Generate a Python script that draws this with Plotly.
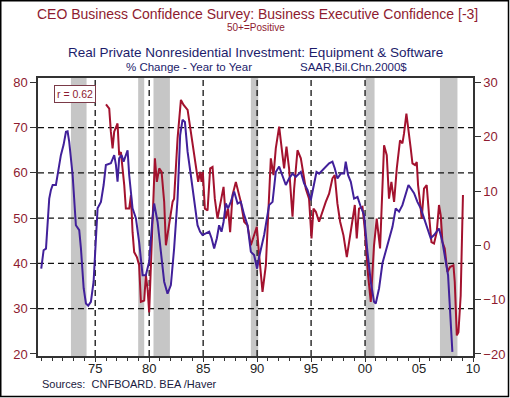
import plotly.graph_objects as go

# ---------------- data ----------------
# Real Private Nonresidential Investment: Equipment & Software, % change y/y (right axis)
invest_years = [1970.0, 1970.22, 1970.44, 1970.74, 1970.9, 1971.06, 1971.36, 1971.57, 1971.82, 1972.07,
                1972.29, 1972.44, 1972.59, 1972.91, 1973.21, 1973.52, 1973.68, 1973.93, 1974.14, 1974.35,
                1974.6, 1974.85, 1975.06, 1975.22, 1975.53, 1975.78, 1975.99, 1976.2, 1976.45, 1976.76,
                1976.92, 1977.07, 1977.22, 1977.44, 1977.63, 1978.0, 1978.15, 1978.46, 1978.77, 1979.07,
                1979.39, 1979.69, 1980.0, 1980.31, 1980.46, 1980.78, 1981.08, 1981.39, 1981.7, 1982.01,
                1982.31, 1982.63, 1982.87, 1983.09, 1983.31, 1983.56, 1983.86, 1984.17, 1984.48, 1984.72,
                1984.94, 1985.25, 1985.56, 1985.78, 1986.02, 1986.27, 1986.48, 1986.7, 1986.89, 1987.1,
                1987.31, 1987.56, 1987.87, 1988.19, 1988.49, 1988.8, 1989.11, 1989.42, 1989.72, 1990.0,
                1990.19, 1990.65, 1991.11, 1991.43, 1991.73, 1992.04, 1992.35, 1992.66, 1992.96, 1993.28,
                1993.58, 1994.05, 1994.35, 1994.67, 1994.97, 1995.28, 1995.5, 1995.74, 1996.06, 1996.36,
                1996.67, 1996.98, 1997.19, 1997.44, 1997.75, 1998.06, 1998.21, 1998.43, 1998.68, 1998.98,
                1999.3, 1999.6, 1999.91, 2000.22, 2000.53, 2000.83, 2000.99, 2001.3, 2001.61, 2002.07,
                2002.54, 2002.84, 2003.15, 2003.46, 2003.77, 2004.02, 2004.23, 2004.54, 2004.85, 2005.16,
                2005.46, 2005.78, 2006.08, 2006.39, 2006.85, 2007.17, 2007.47, 2007.69, 2008.09]
invest_values = [-4.3, -0.9, -0.6, 8.6, 10.2, 11.1, 11.1, 13.5, 16.6, 18.5,
                 20.9, 21.0, 19.1, 12.9, 3.7, 2.8, -0.6, -7.9, -10.7, -11.1,
                 -10.4, -6.7, 0.6, 6.8, 8.0, 11.1, 14.8, 14.9, 15.1, 16.6,
                 14.8, 11.7, 16.0, 16.6, 15.4, 17.5, 12.9, 6.8, 5.0, 0.6,
                 -5.5, -5.5, -3.0, 5.0, 7.7, 4.3, -0.6, -6.7, -8.9, -7.3,
                 -0.6, 8.6, 20.3, 23.1, 22.7, 17.2, 12.9, 8.6, 3.7, 2.5,
                 1.9, 2.2, 2.5, 1.3, -0.6, 1.3, 3.7, 2.5, 4.3, 7.7,
                 6.8, 8.0, 9.9, 7.7, 8.0, 5.6, 3.7, -1.2, -1.8, -4.3,
                 -2.1, 1.9, 7.4, 8.0, 13.5, 14.5, 12.9, 11.1, 12.3, 13.2,
                 12.6, 13.5, 11.4, 10.2, 8.3, 11.4, 13.5, 13.2, 13.8, 14.5,
                 15.1, 15.4, 14.2, 12.3, 13.2, 13.2, 15.4, 12.9, 11.7, 8.6,
                 8.9, 7.1, 5.6, -1.2, -6.7, -10.4, -10.7, -7.9, -3.3, 0.0,
                 3.4, 6.8, 6.2, 7.4, 9.6, 11.1, 10.5, 9.6, 8.0, 6.8,
                 5.0, 3.1, 1.3, 1.9, 3.1, 0.6, -3.0, -5.5, -19.6]

# CEO Business Confidence Survey: Business Executive Confidence [-3] (left axis)
ceo_years = [1976.0, 1976.3, 1976.45, 1976.61, 1976.76, 1977.07, 1977.22, 1977.38, 1977.69, 1977.84,
             1978.15, 1978.31, 1978.46, 1978.61, 1978.86, 1979.07, 1979.23, 1979.54, 1979.69, 1979.85,
             1980.0, 1980.16, 1980.53, 1980.71, 1980.93, 1981.15, 1981.39, 1981.55, 1981.85, 1982.17,
             1982.31, 1982.63, 1982.94, 1983.19, 1983.56, 1983.86, 1984.17, 1984.54, 1984.72, 1984.85,
             1984.97, 1985.16, 1985.41, 1985.65, 1985.87, 1986.08, 1986.33, 1986.64, 1986.89, 1987.1,
             1987.31, 1987.5, 1987.72, 1988.03, 1988.24, 1988.49, 1988.8, 1989.11, 1989.42, 1989.72,
             1989.97, 1990.19, 1990.5, 1990.81, 1991.11, 1991.27, 1991.52, 1991.73, 1992.04, 1992.19,
             1992.35, 1992.5, 1992.72, 1992.96, 1993.28, 1993.43, 1993.74, 1994.05, 1994.3, 1994.51,
             1994.81, 1995.04, 1995.22, 1995.44, 1995.74, 1996.06, 1996.36, 1996.67, 1996.98, 1997.19,
             1997.44, 1997.69, 1998.0, 1998.31, 1998.52, 1998.83, 1999.05, 1999.23, 1999.44, 1999.76,
             1999.97, 2000.28, 2000.53, 2000.83, 2001.08, 2001.39, 2001.76, 2002.01, 2002.22, 2002.44,
             2002.69, 2002.94, 2003.24, 2003.46, 2003.61, 2003.83, 2004.02, 2004.23, 2004.39, 2004.63,
             2004.79, 2004.91, 2005.09, 2005.25, 2005.46, 2005.71, 2005.93, 2006.15, 2006.39, 2006.64,
             2006.85, 2007.01, 2007.17, 2007.38, 2007.63, 2007.87, 2008.19, 2008.31, 2008.5, 2008.65,
             2008.86, 2009.07]
ceo_values = [75.1, 74.2, 69.1, 65.4, 69.1, 70.9, 63.9, 64.6, 57.3, 52.1,
              52.1, 55.1, 46.9, 42.5, 41.4, 39.6, 31.5, 31.8, 37.4, 34.4,
              29.2, 40.3, 63.2, 58.0, 61.0, 60.2, 53.6, 44.0, 49.2, 53.6,
              54.3, 67.6, 76.1, 75.0, 73.9, 69.1, 63.9, 58.0, 60.2, 58.0,
              60.2, 52.1, 51.7, 61.0, 61.3, 54.3, 49.9, 53.6, 56.9, 49.9,
              52.1, 46.9, 55.1, 58.0, 56.2, 53.6, 49.2, 48.4, 44.0, 46.2,
              48.1, 41.8, 33.7, 39.6, 55.8, 63.2, 59.5, 65.4, 70.2, 67.6,
              63.9, 61.0, 65.8, 61.0, 50.3, 56.5, 65.0, 63.2, 59.5, 56.5,
              54.3, 45.5, 52.1, 51.4, 49.2, 51.7, 53.6, 55.4, 58.8, 59.5,
              53.2, 49.2, 46.2, 41.4, 44.7, 49.9, 52.9, 45.5, 52.1, 52.5,
              47.7, 37.4, 31.5, 44.0, 49.9, 43.3, 66.1, 63.9, 54.3, 58.0,
              53.6, 61.0, 67.2, 66.5, 68.7, 73.1, 69.8, 65.4, 62.1, 61.7,
              62.4, 57.3, 53.6, 49.9, 56.5, 57.3, 50.6, 44.7, 44.4, 46.9,
              52.9, 50.6, 44.7, 43.3, 38.1, 39.2, 39.6, 35.9, 24.1, 24.8,
              32.9, 55.1]

# recession shading (start, end) on the chart's time scale
recession_starts = [1972.75, 1978.98, 1980.40, 1989.42, 2000.05, 2006.94]
recession_ends = [1974.20, 1979.54, 1981.92, 1990.10, 2000.88, 2008.56]

x_tick_vals = [1975, 1980, 1985, 1990, 1995, 2000, 2005, 2010]
x_tick_text = ["75", "80", "85", "90", "95", "00", "05", "10"]
v_grid_years = [1975, 1980, 1985, 1990, 1995, 2000]
h_grid_left = [30, 40, 50, 60, 70]
left_ticks = [20, 30, 40, 50, 60, 70, 80]
right_ticks = [-20, -10, 0, 10, 20, 30]
correlation_label = "r = 0.62"

# ---------------- styling ----------------
RED = "#A3122E"
BLUE = "#41209A"
TITLE_RED = "#8E1B30"
NAVY = "#1C1C6B"
FONT = "Liberation Sans, Arial, sans-serif"

X_RANGE = [1969.7, 2010.0]
LEFT_RANGE = [19.55, 80.95]
RIGHT_RANGE = [-20.37, 30.8]

fig = go.Figure()

fig.add_trace(go.Scatter(x=invest_years, y=invest_values, mode="lines", yaxis="y2",
                         line=dict(color=BLUE, width=2), name="Investment", hoverinfo="x+y"))
fig.add_trace(go.Scatter(x=ceo_years, y=ceo_values, mode="lines", yaxis="y",
                         line=dict(color=RED, width=2), name="CEO Confidence", hoverinfo="x+y"))

shapes = []
for s, e in zip(recession_starts, recession_ends):
    shapes.append(dict(type="rect", xref="x", yref="paper", x0=s, x1=e, y0=0, y1=1,
                       fillcolor="#C6C6C6", line=dict(width=0), layer="below"))
for yv in h_grid_left:
    shapes.append(dict(type="line", xref="paper", yref="y", x0=0, x1=1, y0=yv, y1=yv,
                       line=dict(color="#111111", width=1.3, dash="6px,4px"), layer="below"))
for xv in v_grid_years:
    shapes.append(dict(type="line", xref="x", yref="paper", x0=xv, x1=xv, y0=0, y1=1,
                       line=dict(color="#111111", width=1.3, dash="6px,4px"), layer="below"))

# outer frame of the whole image
L, R, T, B = 38, 37, 78, 42
W, H = 510, 398
pw, ph = W - L - R, H - T - B
def px_x(px):
    return (px - L) / pw
def px_y(py):
    return (H - B - py) / ph
shapes.append(dict(type="rect", xref="paper", yref="paper",
                   x0=px_x(0.75), x1=px_x(508.5), y0=px_y(396.5), y1=px_y(0.75),
                   line=dict(color="#000000", width=1.5), fillcolor="rgba(0,0,0,0)", layer="above"))

annotations = [
    dict(text="CEO Business Confidence Survey: Business Executive Confidence [-3]",
         x=px_x(257), y=px_y(14), xref="paper", yref="paper", showarrow=False,
         font=dict(family=FONT, size=14, color=TITLE_RED), xanchor="center", yanchor="middle"),
    dict(text="50+=Positive", x=px_x(255.5), y=px_y(27.5), xref="paper", yref="paper", showarrow=False,
         font=dict(family=FONT, size=10, color=TITLE_RED), xanchor="center", yanchor="middle"),
    dict(text="Real Private Nonresidential Investment: Equipment & Software",
         x=px_x(256), y=px_y(52.5), xref="paper", yref="paper", showarrow=False,
         font=dict(family=FONT, size=13.5, color=NAVY), xanchor="center", yanchor="middle"),
    dict(text="% Change - Year to Year", x=px_x(189), y=px_y(67), xref="paper", yref="paper",
         showarrow=False, font=dict(family=FONT, size=11.5, color=NAVY), xanchor="center", yanchor="middle"),
    dict(text="SAAR,Bil.Chn.2000$", x=px_x(353.5), y=px_y(67), xref="paper", yref="paper",
         showarrow=False, font=dict(family=FONT, size=11.5, color=NAVY), xanchor="center", yanchor="middle"),
    dict(text="Sources:  CNFBOARD. BEA /Haver", x=px_x(40), y=px_y(384), xref="paper", yref="paper",
         showarrow=False, font=dict(family=FONT, size=11, color="#1A1A40"), xanchor="left", yanchor="middle"),
    dict(text=correlation_label, x=px_x(75), y=px_y(93.5), xref="paper", yref="paper", showarrow=False,
         font=dict(family=FONT, size=10.5, color=TITLE_RED), xanchor="center", yanchor="middle",
         bgcolor="#FFFFFF", bordercolor="#7A3A48", borderwidth=1, borderpad=2),
]

fig.update_layout(
    width=W, height=H,
    margin=dict(l=L, r=R, t=T, b=B, pad=0, autoexpand=False),
    paper_bgcolor="#FFFFFF", plot_bgcolor="#FFFFFF",
    showlegend=False,
    shapes=shapes,
    annotations=annotations,
    font=dict(family=FONT),
    xaxis=dict(range=X_RANGE, tickvals=x_tick_vals, ticktext=x_tick_text, automargin=False,
               showgrid=False, zeroline=False, showline=True, linecolor="#333333", linewidth=1.5,
               mirror=True, ticks="outside", ticklen=4, tickcolor="#333333", ticklabelstandoff=-4,
               tickfont=dict(family=FONT, size=13, color="#222222"),
               minor=dict(dtick=1, tick0=1970, ticks="outside", ticklen=3, tickcolor="#333333", showgrid=False)),
    yaxis=dict(range=LEFT_RANGE, tickvals=left_ticks, showgrid=False, zeroline=False, automargin=False,
               showline=True, linecolor="#333333", linewidth=1.5, ticks="outside", ticklen=6,
               tickcolor="#333333", tickfont=dict(family=FONT, size=13, color=TITLE_RED)),
    yaxis2=dict(range=RIGHT_RANGE, tickvals=right_ticks, overlaying="y", side="right", automargin=False,
                showgrid=False, zeroline=False, showline=True, linecolor="#333333", linewidth=1.5,
                ticks="outside", ticklen=6, tickcolor="#333333",
                tickfont=dict(family=FONT, size=13, color=TITLE_RED)),
)

fig.write_html("out.html", config={"displayModeBar": False},
               post_script="document.body.style.margin='0';document.body.style.padding='0';"
                           "document.body.style.overflow='hidden';")
